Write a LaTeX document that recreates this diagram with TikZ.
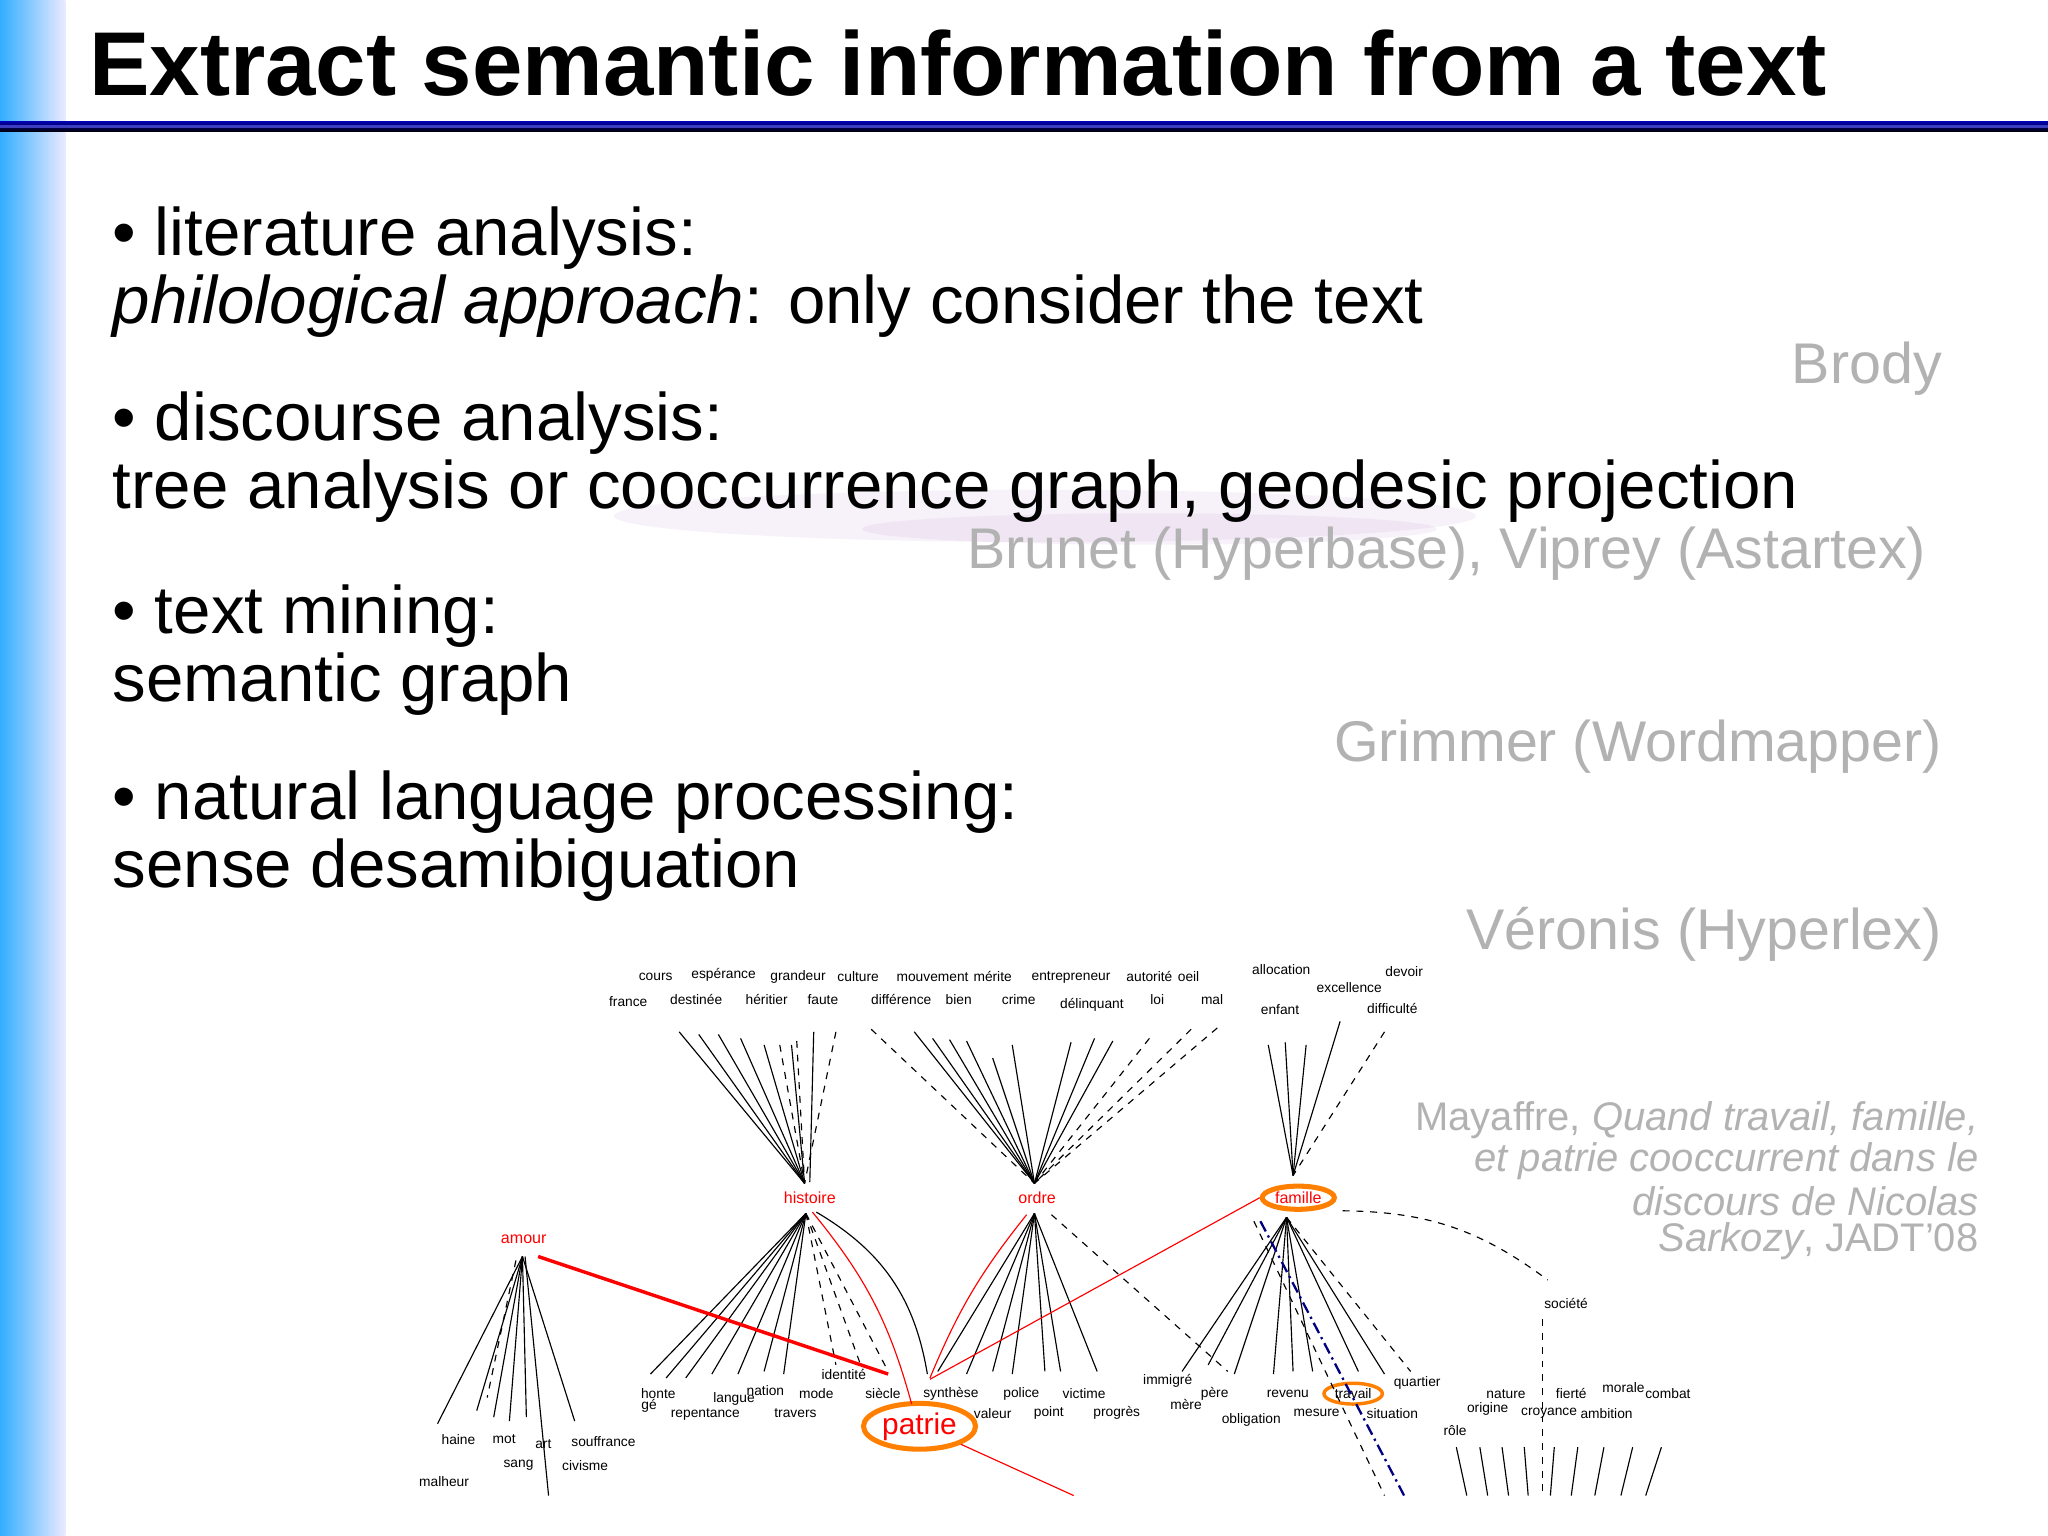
\documentclass[tikz,border=0pt]{standalone}
\usepackage{fontspec}
\setmainfont{Liberation Sans}
\usetikzlibrary{shapes.geometric}
\begin{document}
\begin{tikzpicture}[x=0.02cm,y=-0.02cm,
 body/.style={anchor=west,inner sep=0,font=\fontsize{29.3}{32}\selectfont},
 ref/.style={anchor=east,inner sep=0,text=black!30,font=\fontsize{25}{28}\selectfont},
 w/.style={inner sep=0,font=\fontsize{6}{6}\selectfont},
 hub/.style={inner sep=0,text=red,font=\fontsize{7}{7}\selectfont},
 ring/.style={draw=orange,line width=2.2pt,ellipse,inner sep=1pt},
 ln/.style={black,line width=0.5pt},
 dl/.style={black,line width=0.5pt,dashed},
 rl/.style={red,line width=0.5pt}]
\useasboundingbox (0,0) rectangle (1568,1176);
\fill[white] (0,0) rectangle (1568,1176);
\shade[left color=cyan!60!blue!80,right color=blue!8] (0,0) rectangle (50,1176);
\node[anchor=west,inner sep=0,font=\bfseries\fontsize{39.5}{42}\selectfont] (title) at (68,48) {Extract semantic information from a text};
\shade[top color=blue!70!black,bottom color=black] (0,93) rectangle (1568,101);
\fill[blue!60,opacity=0.6] (0,96) rectangle (1568,98);
\fill[blue!40!purple,opacity=0.05] (800,395) ellipse (330 and 20);
\fill[blue!40!purple,opacity=0.05] (880,405) ellipse (220 and 12);
\node[body] (b1) at (86,182) {• literature analysis:};
\node[body] (b1b) at (86,234) {\itshape philological approach\upshape: only consider the text};
\node[body] (b2) at (86,324) {• discourse analysis:};
\node[body] (b2b) at (86,376) {tree analysis or cooccurrence graph, geodesic projection};
\node[body] (b3) at (86,472) {• text mining:};
\node[body] (b3b) at (86,524) {semantic graph};
\node[body] (b4) at (86,614) {• natural language processing:};
\node[body] (b4b) at (86,666) {sense desamibiguation};
\node[ref] (r1) at (1487,282) {Brody};
\node[ref] (r2) at (1475,424) {Brunet (Hyperbase), Viprey (Astartex)};
\node[ref] (r3) at (1487,572) {Grimmer (Wordmapper)};
\node[ref] (r4) at (1487,715) {Véronis (Hyperlex)};
\node[ref,font=\fontsize{17.4}{19}\selectfont] (m1) at (1515,858) {Mayaffre, \itshape Quand travail, famille,};
\node[ref,font=\itshape\fontsize{17.4}{19}\selectfont] (m2) at (1515,889) {et patrie cooccurrent dans le};
\node[ref,font=\itshape\fontsize{17.4}{19}\selectfont] (m3) at (1515,920) {discours de Nicolas};
\node[ref,font=\fontsize{17.4}{19}\selectfont] (m4) at (1515,950) {\itshape Sarkozy\upshape, JADT'08};
% hubs
\node[hub] (histoire) at (620,917) {histoire};
\node[hub] (ordre) at (794,917) {ordre};
\node[hub,ring] (famille) at (994,917) {famille};
\node[hub] (amour) at (401,949) {amour};
\node[hub,ring,font=\fontsize{13}{13}\selectfont] (patrie) at (704,1092) {patrie};
\node[w,ring,line width=1.5pt] (travail) at (1036,1067) {travail};
\node[w] (societe) at (1199,998) {société};
% words
\foreach \t/\x/\y in {cours/502/748,espérance/554/746,grandeur/611/748,culture/657/748,mouvement/714/748,mérite/760/748,entrepreneur/820/748,autorité/880/748,oeil/910/748,allocation/981/742,devoir/1075/744,excellence/1033/756,
france/481/767,destinée/533/765,héritier/587/765,faute/630/765,différence/690/765,bien/734/765,crime/780/765,délinquant/836/769,loi/886/765,mal/928/765,enfant/980/773,difficulté/1066/772,
honte/504/1067,gé/497/1076,repentance/540/1083,langue/562/1071,nation/586/1065,mode/625/1067,travers/609/1082,identité/646/1052,siècle/676/1067,synthèse/728/1067,valeur/760/1082,police/782/1067,point/803/1082,victime/830/1067,progrès/855/1082,
immigré/894/1057,mère/908/1075,père/930/1067,revenu/986/1067,obligation/958/1087,mesure/1008/1082,situation/1066/1082,quartier/1085/1059,
nature/1153/1067,fierté/1203/1067,morale/1243/1062,combat/1277/1067,origine/1139/1079,croyance/1186/1082,ambition/1230/1082,rôle/1114/1095,
haine/351/1102,mot/386/1102,art/416/1106,souffrance/462/1104,sang/397/1122,civisme/448/1122,malheur/340/1134}
  \node[w] (w-\x-\y) at (\x,\y) {\t};
% histoire top
\coordinate (ht) at (616,906);
\foreach \x/\y in {520/790,535/792,550/792,567/795,585/800,606/800}\draw[ln] (\x,\y) -- (ht);
\foreach \x/\y in {597/800,610/797,640/790}\draw[dl] (\x,\y) -- (ht);
\draw[ln] (623,790) -- (620,905);
% ordre top
\coordinate (ot) at (792,906);
\foreach \x/\y in {700/790,714/795,727/796,740/797,760/810,775/800,820/798,838/795,852/797}\draw[ln] (\x,\y) -- (ot);
\foreach \x/\y in {667/788,880/795,912/788,932/787}\draw[dl] (\x,\y) -- (ot);
% famille top
\coordinate (ft) at (990,900);
\foreach \x/\y in {971/800,984/798,1000/800,1026/782}\draw[ln] (\x,\y) -- (ft);
\draw[dl] (1060,790) -- (ft);
% histoire bottom
\coordinate (hb) at (617,929);
\foreach \x/\y in {498/1052,510/1055,525/1055,545/1052,565/1052,585/1050,600/1052}\draw[ln] (hb) -- (\x,\y);
\foreach \x/\y in {640/1045,660/1048,680/1050}\draw[dl] (hb) -- (\x,\y);
\draw[ln] (625,928) to[bend left=25] (710,1052);
% ordre bottom
\coordinate (ob) at (792,929);
\foreach \x/\y in {718/1050,740/1052,760/1050,775/1052,800/1050,812/1050,840/1050}\draw[ln] (ob) -- (\x,\y);
\draw[dl] (805,930) -- (940,1050);
% famille bottom
\coordinate (fb) at (985,932);
\foreach \x/\y in {905/1050,925/1045,945/1052,975/1052,990/1050,1005/1050,1040/1050,1060/1052}\draw[ln] (fb) -- (\x,\y);
\draw[dl] (fb) -- (1080,1050);
\draw[dl] (1028,927) to[bend left=18] (1185,980);
\draw[blue!50!black,line width=1pt,dash pattern=on 5pt off 2pt on 1pt off 2pt] (965,935) -- (1075,1145);
\draw[dl] (960,935) -- (1060,1145);
% amour
\coordinate (ab) at (400,962);
\foreach \x/\y in {335/1090,365/1080,378/1085,390/1088,403/1085,440/1088}\draw[ln] (ab) -- (\x,\y);
\draw[dl] (395,965) -- (373,1070);
\draw[ln] (402,962) -- (420,1145);
% societe and bottom right
\draw[dl] (1181,1010) -- (1181,1145);
\foreach \x/\d in {1115/8,1133/6,1150/5,1167/3,1190/-3,1208/-5,1228/-7,1250/-9,1272/-12}
  \draw[ln] (\x,1108) -- ({\x+\d},1145);
% red links
\draw[red,line width=1.5pt] (412,962) -- (680,1052);
\draw[rl] (622,928) to[bend left=12] (698,1075);
\draw[rl] (786,930) to[bend right=8] (712,1055);
\draw[rl] (famille.west) -- (712,1056);
\draw[rl] (patrie.south east) -- (822,1145);
\end{tikzpicture}
\end{document}
